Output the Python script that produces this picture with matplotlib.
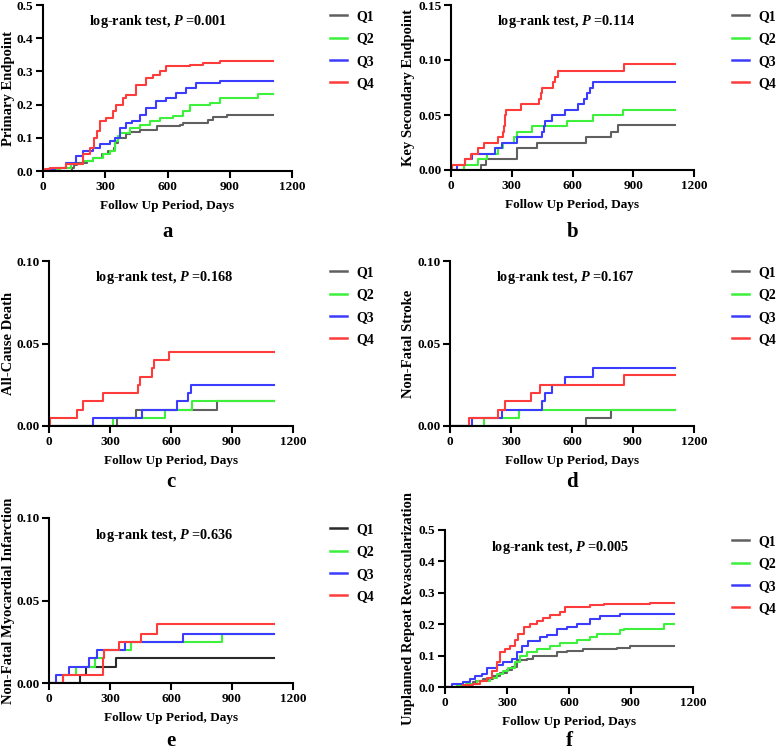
import matplotlib
matplotlib.use('Agg')
import matplotlib.pyplot as plt
from matplotlib.lines import Line2D

plt.rcParams['font.family'] = 'Liberation Serif'
plt.rcParams['font.weight'] = 'bold'
plt.rcParams['mathtext.fontset'] = 'custom'
plt.rcParams['mathtext.it'] = 'Liberation Serif:italic:bold'
plt.rcParams['mathtext.rm'] = 'Liberation Serif:bold'

groups = ['Q1', 'Q2', 'Q3', 'Q4']
x_ticks = [0, 300, 600, 900, 1200]

# panel a - primary endpoint
a_q1_t = [0, 138, 150, 162, 210, 243, 283, 315, 340, 347, 360, 400, 420, 468, 548, 660, 676, 796, 820, 885, 1108]
a_q1_v = [0, 0.01, 0.018, 0.025, 0.03, 0.04, 0.05, 0.06, 0.07, 0.085, 0.10, 0.11, 0.118, 0.125, 0.135, 0.14, 0.145, 0.155, 0.162, 0.168, 0.168]
a_q2_t = [0, 60, 80, 137, 193, 241, 289, 321, 345, 360, 369, 418, 466, 514, 562, 626, 675, 707, 803, 851, 1036, 1108]
a_q2_v = [0, 0.005, 0.01, 0.02, 0.03, 0.04, 0.05, 0.06, 0.09, 0.105, 0.115, 0.13, 0.14, 0.15, 0.16, 0.165, 0.18, 0.20, 0.205, 0.22, 0.233, 0.233]
a_q3_t = [0, 32, 56, 112, 161, 193, 241, 273, 321, 345, 369, 402, 430, 466, 498, 546, 594, 643, 691, 739, 851, 1108]
a_q3_v = [0, 0.005, 0.01, 0.025, 0.045, 0.06, 0.07, 0.08, 0.09, 0.10, 0.13, 0.145, 0.15, 0.17, 0.19, 0.21, 0.22, 0.235, 0.25, 0.265, 0.27, 0.27]
a_q4_t = [0, 10, 32, 112, 193, 225, 246, 260, 273, 305, 337, 353, 386, 402, 450, 498, 530, 562, 594, 707, 771, 851, 1108]
a_q4_v = [0, 0.005, 0.01, 0.02, 0.05, 0.07, 0.10, 0.12, 0.15, 0.16, 0.18, 0.20, 0.22, 0.23, 0.26, 0.28, 0.29, 0.30, 0.315, 0.32, 0.325, 0.332, 0.332]

# panel b - key secondary endpoint
b_q1_t = [0, 150, 174, 328, 426, 665, 792, 825, 1108]
b_q1_v = [0, 0.005, 0.01, 0.02, 0.025, 0.03, 0.035, 0.041, 0.041]
b_q2_t = [0, 66, 131, 177, 230, 255, 310, 325, 399, 571, 699, 850, 1108]
b_q2_v = [0, 0.005, 0.01, 0.015, 0.02, 0.025, 0.03, 0.035, 0.04, 0.045, 0.05, 0.055, 0.055]
b_q3_t = [0, 31, 67, 104, 216, 252, 328, 451, 458, 465, 500, 565, 629, 658, 673, 688, 700, 1108]
b_q3_v = [0, 0.005, 0.01, 0.015, 0.02, 0.025, 0.03, 0.035, 0.04, 0.045, 0.05, 0.055, 0.06, 0.065, 0.07, 0.075, 0.08, 0.08]
b_q4_t = [0, 5, 67, 100, 133, 163, 232, 258, 262, 265, 268, 272, 347, 436, 443, 451, 504, 516, 528, 854, 1108]
b_q4_v = [0, 0.005, 0.01, 0.015, 0.02, 0.025, 0.03, 0.035, 0.04, 0.045, 0.05, 0.055, 0.06, 0.065, 0.07, 0.075, 0.08, 0.085, 0.09, 0.096, 0.096]

# panel c - all-cause death
c_q1_t = [0, 333, 428, 828, 1108]
c_q1_v = [0, 0.005, 0.01, 0.015, 0.015]
c_q2_t = [0, 316, 570, 702, 1108]
c_q2_v = [0, 0.005, 0.01, 0.015, 0.015]
c_q3_t = [0, 218, 456, 631, 682, 697, 1108]
c_q3_v = [0, 0.005, 0.01, 0.015, 0.02, 0.025, 0.025]
c_q4_t = [0, 5, 136, 166, 267, 436, 446, 505, 516, 590, 1108]
c_q4_v = [0, 0.005, 0.01, 0.015, 0.02, 0.025, 0.03, 0.035, 0.04, 0.045, 0.045]

# panel d - non-fatal stroke
d_q1_t = [0, 669, 793, 1108]
d_q1_v = [0, 0.005, 0.01, 0.01]
d_q2_t = [0, 166, 339, 1108]
d_q2_v = [0, 0.005, 0.01, 0.01]
d_q3_t = [0, 108, 257, 454, 469, 502, 567, 705, 1108]
d_q3_v = [0, 0.005, 0.01, 0.015, 0.02, 0.025, 0.03, 0.035, 0.035]
d_q4_t = [0, 92, 236, 269, 397, 444, 856, 1108]
d_q4_v = [0, 0.005, 0.01, 0.015, 0.02, 0.025, 0.031, 0.031]

# panel e - non-fatal MI
e_q1_t = [0, 152, 180, 330, 1108]
e_q1_v = [0, 0.005, 0.01, 0.015, 0.015]
e_q2_t = [0, 67, 131, 226, 272, 403, 849, 1108]
e_q2_v = [0, 0.005, 0.01, 0.015, 0.02, 0.025, 0.03, 0.03]
e_q3_t = [0, 33, 98, 198, 234, 374, 657, 1108]
e_q3_v = [0, 0.005, 0.01, 0.015, 0.02, 0.025, 0.03, 0.03]
e_q4_t = [0, 67, 265, 268, 270, 344, 452, 530, 1108]
e_q4_v = [0, 0.005, 0.01, 0.015, 0.02, 0.025, 0.03, 0.036, 0.036]

# panel f - unplanned repeat revascularization
f_q1_t = [0, 129, 135, 150, 186, 234, 266, 299, 323, 347, 396, 428, 541, 590, 670, 832, 896, 1108]
f_q1_v = [0, 0.01, 0.015, 0.02, 0.025, 0.035, 0.045, 0.055, 0.065, 0.085, 0.09, 0.10, 0.11, 0.115, 0.12, 0.125, 0.13, 0.132]
f_q2_t = [0, 57, 100, 153, 218, 250, 283, 307, 339, 363, 396, 444, 509, 557, 638, 703, 735, 848, 864, 1058, 1108]
f_q2_v = [0, 0.005, 0.01, 0.02, 0.03, 0.04, 0.05, 0.06, 0.08, 0.10, 0.11, 0.12, 0.13, 0.14, 0.15, 0.16, 0.17, 0.18, 0.185, 0.20, 0.20]
f_q3_t = [0, 32, 89, 121, 145, 178, 202, 250, 283, 323, 347, 371, 404, 460, 493, 541, 590, 638, 703, 751, 848, 1108]
f_q3_v = [0, 0.01, 0.015, 0.025, 0.035, 0.04, 0.06, 0.07, 0.08, 0.09, 0.11, 0.13, 0.145, 0.16, 0.165, 0.185, 0.19, 0.20, 0.215, 0.225, 0.232, 0.232]
f_q4_t = [0, 89, 137, 170, 202, 226, 250, 266, 291, 315, 339, 355, 380, 412, 444, 476, 509, 557, 581, 703, 767, 993, 1108]
f_q4_v = [0, 0.005, 0.01, 0.02, 0.03, 0.05, 0.08, 0.11, 0.12, 0.13, 0.15, 0.17, 0.19, 0.20, 0.21, 0.22, 0.23, 0.24, 0.255, 0.26, 0.265, 0.267, 0.268]

p_values = ['0.001', '0.114', '0.168', '0.167', '0.636', '0.005']
y_labels = ['Primary Endpoint', 'Key Secondary Endpoint', 'All-Cause Death',
            'Non-Fatal Stroke', 'Non-Fatal Myocardial Infarction',
            'Unplanned Repeat Revascularization']
letters = ['a', 'b', 'c', 'd', 'e', 'f']

colors = ['#606060', '#3cf03c', '#3c3cff', '#ff3c3c']

W, H = 778, 756
fig = plt.figure(figsize=(W / 100, H / 100), dpi=100)

# axes boxes in pixels: left, right, top, bottom
boxes = [(43, 292, 5, 171), (451, 694, 5, 170),
         (49, 293, 261, 426), (450, 694, 261, 426),
         (49, 293, 518, 683), (445, 693, 530, 687)]
ymax = [0.5, 0.15, 0.10, 0.10, 0.10, 0.5]
yticks = [[0, 0.1, 0.2, 0.3, 0.4, 0.5], [0, 0.05, 0.10, 0.15],
          [0, 0.05, 0.10], [0, 0.05, 0.10], [0, 0.05, 0.10],
          [0, 0.1, 0.2, 0.3, 0.4, 0.5]]
yfmt = ['%.1f', '%.2f', '%.2f', '%.2f', '%.2f', '%.1f']

panel_data = [
    [(a_q1_t, a_q1_v), (a_q2_t, a_q2_v), (a_q3_t, a_q3_v), (a_q4_t, a_q4_v)],
    [(b_q1_t, b_q1_v), (b_q2_t, b_q2_v), (b_q3_t, b_q3_v), (b_q4_t, b_q4_v)],
    [(c_q1_t, c_q1_v), (c_q2_t, c_q2_v), (c_q3_t, c_q3_v), (c_q4_t, c_q4_v)],
    [(d_q1_t, d_q1_v), (d_q2_t, d_q2_v), (d_q3_t, d_q3_v), (d_q4_t, d_q4_v)],
    [(e_q1_t, e_q1_v), (e_q2_t, e_q2_v), (e_q3_t, e_q3_v), (e_q4_t, e_q4_v)],
    [(f_q1_t, f_q1_v), (f_q2_t, f_q2_v), (f_q3_t, f_q3_v), (f_q4_t, f_q4_v)],
]

for i in range(6):
    l, r, t, b = boxes[i]
    w, h = r - l, b - t
    left_col = l < 300
    ax = fig.add_axes([l / W, 1 - b / H, w / W, h / H])
    cols = list(colors)
    if i == 4:
        cols[0] = '#2a2a2a'
    handles = []
    for k, (tt, vv) in enumerate(panel_data[i]):
        ax.step(tt, vv, where='post', color=cols[k], lw=1.5, zorder=3 + k)
        handles.append(Line2D([0], [0], color=cols[k], lw=1.8))
    ax.set_xlim(0, 1200)
    ax.set_ylim(0, ymax[i])
    ax.set_xticks(x_ticks)
    ax.set_yticks(yticks[i])
    ax.set_yticklabels([yfmt[i] % v for v in yticks[i]])
    for s in ['top', 'right']:
        ax.spines[s].set_visible(False)
    for s in ['left', 'bottom']:
        ax.spines[s].set_linewidth(1.5)
        ax.spines[s].set_zorder(10)
    ax.tick_params(direction='out', length=5, width=1.5, pad=2, labelsize=9.5)
    for lab in ax.get_xticklabels() + ax.get_yticklabels():
        lab.set_fontweight('bold')
    ax.set_xlabel('Follow Up Period, Days', fontsize=9.5, fontweight='bold')
    ax.xaxis.set_label_coords(0.5, -29 / h)
    ax.set_ylabel(y_labels[i], fontsize=10.5, fontweight='bold')
    lab_x = 15 if left_col else 415
    ax.yaxis.set_label_coords((lab_x - l) / w, 0.5)
    ax.text(115 / w, 1 - 17 / h, 'log-rank test, $P$ =' + p_values[i],
            transform=ax.transAxes, ha='center', va='center', fontsize=10.3,
            fontweight='bold')
    leg_x = 330 if left_col else 732
    ax.legend(handles, groups, loc='upper left',
              bbox_to_anchor=(leg_x / W, 1 - (t + 5) / H),
              bbox_transform=fig.transFigure, frameon=False, borderpad=0,
              borderaxespad=0, handlelength=1.2, handletextpad=0.7,
              labelspacing=0.68, prop={'family': 'Liberation Serif',
                                       'weight': 'bold', 'size': 10})
    ly = 232 if i < 2 else (482 if i < 4 else 741)
    fig.text((l + w / 2) / W, 1 - ly / H, letters[i], ha='center', va='center',
             fontsize=15, fontweight='bold')

fig.savefig('out.png', dpi=100)
